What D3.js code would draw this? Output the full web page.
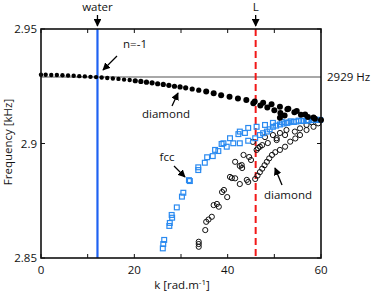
<!DOCTYPE html>
<html>
<head>
<meta charset="utf-8">
<script src="https://cdnjs.cloudflare.com/ajax/libs/d3/7.8.5/d3.min.js"></script>
<style>
  body { margin: 0; background: #fff; }
  text { font-family: "Open Sans", sans-serif; font-size: 11.5px; fill: #111; }
</style>
</head>
<body>
<svg id="chart"></svg>
<script>
// k [rad/m], frequency [kHz]
var diamondFilled = [
  [0,2.9300],[1,2.9300],[2.2,2.9299],[3.4,2.9299],[4.6,2.9298],[5.8,2.9297],[7,2.9296],
  [8.2,2.9294],[9.4,2.9293],[10.6,2.9291],[11.8,2.9290],[13,2.9288],[14.2,2.9286],
  [15.4,2.9284],[16.6,2.9282],[17.8,2.9279],[19,2.9277],[20.2,2.9274],[21.4,2.9271],
  [22.6,2.9268],[23.8,2.9265],[25,2.9261],[26.2,2.9258],[27.4,2.9254],[28.6,2.9250],
  [29.8,2.9247],[31,2.9243],[32.4,2.9238],[33.8,2.9233],[35.4,2.9227],[37,2.9219],
  [38.6,2.9211],[40.4,2.9204],[42.2,2.9197],[44,2.9190],[45.8,2.9183],[47.6,2.9178],
  [49.4,2.9171],[51.2,2.9161],[53,2.9152],[54.8,2.9142],[56.6,2.9127],[58.4,2.9114],[60,2.9103]
];
var diamondFilled2 = [
  [45.5,2.9176],[47,2.9166],[48.5,2.9157],[50,2.9145],[51.3,2.9133],[51.2,2.9112],
  [52.2,2.9122],[52.8,2.9150],[54.3,2.9136],[55.7,2.9126],[57.2,2.9116],[58.7,2.9108]
];
var diamondOpen = [
  [33.8,2.8549],[33.8,2.8561],[33.8,2.8571],[35.2,2.8622],[35.4,2.8658],[35.9,2.8668],
  [36.6,2.8680],[37.0,2.8731],[37.7,2.8736],[38.1,2.8724],[38.8,2.8788],[39.2,2.8797],
  [39.9,2.8766],[40.5,2.8854],[40.9,2.8849],[41.6,2.8848],[42.6,2.8823],[44.1,2.8841],
  [44.4,2.8832],[41.6,2.8920],[42.6,2.8902],[43.1,2.8893],[43.0,2.8906],[43.4,2.8950],
  [44.6,2.8941],[45.0,2.8928],[45.4,2.9007],[46.5,2.8980],[46.2,2.8972],[46.9,2.8986],
  [47.4,2.8993],[48.0,2.9028],[48.6,2.9002],[49.7,2.9037],[50.5,2.9015],[50.5,2.9023],
  [51.2,2.9046],[52.3,2.9037],[52.6,2.9059],[54.4,2.9052],[55.5,2.9066],[56.9,2.9081],
  [58.0,2.9093],
  [45.9,2.8845],[46.4,2.8860],[46.9,2.8875],[47.4,2.8890],[47.9,2.8905],[48.4,2.8920],
  [48.9,2.8935],[49.5,2.8950],[50.2,2.8962],[51.2,2.8972],[52.3,2.8986],[53.4,2.9008],
  [54.5,2.9022],[55.5,2.9037],[56.9,2.9059],[58.4,2.9073],[59.4,2.9088]
];
var fccSquares = [
  [26.1,2.8542],[26.2,2.8561],[26.4,2.8579],[27.5,2.8640],[27.6,2.8653],[28.1,2.8676],
  [28.0,2.8688],[29.1,2.8721],[30.2,2.8768],[30.5,2.8785],[31.9,2.8836],[31.7,2.8840],
  [33.7,2.8884],[33.7,2.8896],[35.1,2.8916],[35.6,2.8940],[36.8,2.8945],[37.3,2.8972],
  [38.0,2.8967],[38.7,2.8998],[39.1,2.9001],[39.8,2.8986],[40.5,2.9023],[41.2,2.9001],
  [42.3,2.9041],[42.6,2.9052],[42.6,2.9001],[43.7,2.9046],[44.4,2.9068],[44.4,2.9012],
  [45.9,2.9023],[46.2,2.9073],[46.9,2.9037],[48.0,2.9081],[48.4,2.9052],[49.7,2.9090],
  [49.7,2.9073],[51.2,2.9083],[51.6,2.9094],[52.7,2.9090],[53.5,2.9097],[54.2,2.9094],
  [55.2,2.9100],[55.7,2.9098],[57.0,2.9101],[57.2,2.9100],[58.5,2.9103],[59.0,2.9103],
  [59.8,2.9103],
  [47.6,2.9045],[49.0,2.9062],[50.4,2.9078],[52.0,2.9087],[53.0,2.9092],[54.7,2.9096],
  [56.3,2.9099],[58.0,2.9102],[59.3,2.9103]
];
var xTicks = [0, 10, 20, 30, 40, 50, 60];
var xLabels = [0, 20, 40, 60];
var yTicks = [2.85, 2.9, 2.95];
var waterK = 12.1, lK = 46, refF = 2.929;

var W = 374, H = 291;
var svg = d3.select('#chart').attr('width', W).attr('height', H);

var x = d3.scaleLinear().domain([0, 60]).range([41, 321]);
var y = d3.scaleLinear().domain([2.85, 2.95]).range([258, 29]);

// reference lines
svg.append('line')
   .attr('x1', x(0)).attr('x2', x(60)).attr('y1', y(refF)).attr('y2', y(refF))
   .attr('stroke', '#a8a8a8').attr('stroke-width', 2);
svg.append('line')
   .attr('x1', x(waterK)).attr('x2', x(waterK)).attr('y1', y(2.95)).attr('y2', y(2.85))
   .attr('stroke', '#1f62f2').attr('stroke-width', 2.2);
svg.append('line')
   .attr('x1', x(lK)).attr('x2', x(lK)).attr('y1', y(2.95)).attr('y2', y(2.85))
   .attr('stroke', '#f21818').attr('stroke-width', 2).attr('stroke-dasharray', '7,4');

// points
svg.append('g').selectAll('circle').data(diamondOpen).enter().append('circle')
   .attr('cx', function(d) { return x(d[0]) })
   .attr('cy', function(d) { return y(d[1]) })
   .attr('r', 2.6).attr('fill', 'none').attr('stroke', '#111').attr('stroke-width', 1);

svg.append('g').selectAll('rect').data(fccSquares).enter().append('rect')
   .attr('x', function(d) { return x(d[0]) - 2.4 })
   .attr('y', function(d) { return y(d[1]) - 2.4 })
   .attr('width', 4.8).attr('height', 4.8)
   .attr('fill', 'none').attr('stroke', '#2a8af0').attr('stroke-width', 1.2);

// dots grow along the branch, as in the source figure
svg.append('g').selectAll('circle').data(diamondFilled.concat(diamondFilled2)).enter().append('circle')
   .attr('cx', function(d) { return x(d[0]) })
   .attr('cy', function(d) { return y(d[1]) })
   .attr('r', function(d) { return d[0] < 20 ? 2.2 : (d[0] < 35 ? 2.6 : 3) })
   .attr('fill', '#000');

// frame and ticks
svg.append('rect')
   .attr('x', x(0)).attr('y', y(2.95)).attr('width', x(60) - x(0)).attr('height', y(2.85) - y(2.95))
   .attr('fill', 'none').attr('stroke', '#111').attr('stroke-width', 1.6);

var ticks = svg.append('g').attr('stroke', '#111').attr('stroke-width', 1);
xTicks.forEach(function(t) {
   ticks.append('line').attr('x1', x(t)).attr('x2', x(t)).attr('y1', y(2.85)).attr('y2', y(2.85) - 4);
   ticks.append('line').attr('x1', x(t)).attr('x2', x(t)).attr('y1', y(2.95)).attr('y2', y(2.95) + 4);
});
yTicks.forEach(function(t) {
   ticks.append('line').attr('x1', x(0)).attr('x2', x(0) + 4).attr('y1', y(t)).attr('y2', y(t));
   ticks.append('line').attr('x1', x(60)).attr('x2', x(60) - 4).attr('y1', y(t)).attr('y2', y(t));
});

svg.append('g').selectAll('text').data(xLabels).enter().append('text')
   .attr('x', function(d) { return x(d) }).attr('y', 274)
   .attr('text-anchor', 'middle').text(function(d) { return d });
svg.append('g').selectAll('text').data(yTicks).enter().append('text')
   .attr('x', 37).attr('y', function(d) { return y(d) + 4 })
   .attr('text-anchor', 'end').text(function(d) { return d });

var xt = svg.append('text').attr('x', 182).attr('y', 289).attr('text-anchor', 'middle');
xt.append('tspan').text('k [rad.m');
xt.append('tspan').attr('dy', -4).style('font-size', '8px').text('-1');
xt.append('tspan').attr('dy', 4).text(']');

svg.append('text')
   .attr('transform', 'translate(12,142) rotate(-90)')
   .attr('text-anchor', 'middle').text('Frequency [kHz]');

// annotations
svg.append('defs').append('marker')
   .attr('id', 'ah').attr('viewBox', '0 0 10 10').attr('refX', 9).attr('refY', 5)
   .attr('markerWidth', 6).attr('markerHeight', 6).attr('orient', 'auto')
   .append('path').attr('d', 'M0,0 L10,5 L0,10 z').attr('fill', '#000');

function arrow(x1, y1, x2, y2) {
   svg.append('line')
      .attr('x1', x1).attr('y1', y1).attr('x2', x2).attr('y2', y2)
      .attr('stroke', '#000').attr('stroke-width', 1.3).attr('marker-end', 'url(#ah)');
}

svg.append('text').attr('x', x(waterK)).attr('y', 11).attr('text-anchor', 'middle').text('water');
arrow(x(waterK), 15, x(waterK), 26);
svg.append('text').attr('x', x(lK)).attr('y', 11).attr('text-anchor', 'middle').text('L');
arrow(x(lK), 15, x(lK), 26);

svg.append('text').attr('x', 135).attr('y', 48).attr('text-anchor', 'middle').text('n=-1');
arrow(117, 56, 103, 70);
svg.append('text').attr('x', 166).attr('y', 118).attr('text-anchor', 'middle').text('diamond');
arrow(172, 106, 178, 93);
svg.append('text').attr('x', 167).attr('y', 161).attr('text-anchor', 'middle').text('fcc');
arrow(174, 166, 185, 177);
svg.append('text').attr('x', 288).attr('y', 199).attr('text-anchor', 'middle').text('diamond');
arrow(282, 185, 275, 168);

svg.append('text').attr('x', 327).attr('y', 81).text('2929 Hz');
</script>
</body>
</html>
